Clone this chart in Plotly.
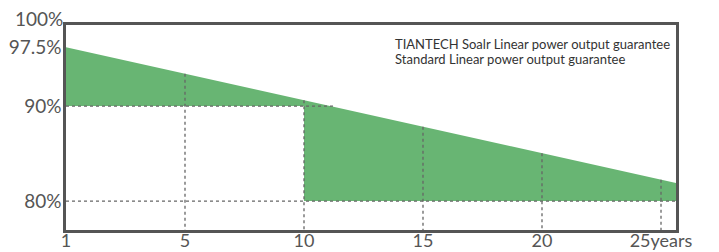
import numpy as np
import plotly.graph_objects as go

# ---- data ----
x_tick_pos = [0, 1, 2, 3, 4, 5]
x_tick_text = ["1", "5", "10", "15", "20", "25years"]
x_end = 5.126

y_tick_vals = [80, 90, 96.2]
y_tick_text = ["80%", "90%", "97.5%"]
top_label_text = "100%"

tiantech_x = [0, x_end]
tiantech_y = [96.2, 81.9]

standard_x = [0, 2, 2, x_end]
standard_y = [90, 90, 80, 80]

h90_end = 2.25
legend_texts = ["TIANTECH Soalr Linear power output guarantee",
                "Standard Linear power output guarantee"]

y_min, y_max = 76.95, 98.53

FONT = "Lato"
GREEN = "#68b573"
GRAY = "#555555"
DOT = "#666666"

fig = go.Figure()

# green area between the two guarantees
poly_x = tiantech_x + standard_x[::-1]
poly_y = tiantech_y + standard_y[::-1]
fig.add_trace(go.Scatter(x=poly_x, y=poly_y, mode="lines", fill="toself",
                         fillcolor=GREEN, line=dict(width=0), hoverinfo="skip",
                         showlegend=False))

dot_line = dict(color=DOT, width=1.3, dash="dot")

# vertical guide lines at the year ticks
for p in x_tick_pos[1:]:
    top = float(np.interp(p, tiantech_x, tiantech_y))
    fig.add_trace(go.Scatter(x=[p, p], y=[top, y_min], mode="lines",
                             line=dot_line, hoverinfo="skip", showlegend=False))

# horizontal guide lines at 90% and 80%
fig.add_trace(go.Scatter(x=[0, h90_end], y=[90, 90], mode="lines",
                         line=dot_line, hoverinfo="skip", showlegend=False))
fig.add_trace(go.Scatter(x=[0, x_end], y=[80, 80], mode="lines",
                         line=dot_line, hoverinfo="skip", showlegend=False))

# legend text
for i, t in enumerate(legend_texts):
    fig.add_annotation(x=2.75, y=[0.905, 0.835][i], xref="x", yref="paper",
                       text=t, showarrow=False, xanchor="left", yanchor="middle",
                       font=dict(family=FONT, size=13, color="#333333"))

# 100% label above the frame
fig.add_annotation(x=0, y=1.03, xref="paper", yref="paper",
                   text=top_label_text, showarrow=False, xanchor="right",
                   yanchor="middle", xshift=-1,
                   font=dict(family=FONT, size=19, color=GRAY))

fig.update_xaxes(range=[0, x_end], tickvals=x_tick_pos, ticktext=x_tick_text,
                 showgrid=False, zeroline=False, showline=True, mirror=True,
                 linecolor=GRAY, linewidth=2.5, ticks="", automargin=False,
                 ticklabelstandoff=-7,
                 tickfont=dict(family=FONT, size=18, color=GRAY))
fig.update_yaxes(range=[y_min, y_max], tickvals=y_tick_vals, ticktext=y_tick_text,
                 showgrid=False, zeroline=False, showline=True, mirror=True,
                 linecolor=GRAY, linewidth=2.5, ticks="", automargin=False,
                 ticklabelstandoff=-2,
                 tickfont=dict(family=FONT, size=19, color=GRAY))

fig.update_layout(width=719, height=252,
                  margin=dict(l=66, r=43, t=25, b=22),
                  paper_bgcolor="white", plot_bgcolor="white",
                  font=dict(family=FONT))

fig.write_html("out.html", config={"displayModeBar": False},
               post_script="document.body.style.margin='0';document.body.style.overflow='hidden';")
